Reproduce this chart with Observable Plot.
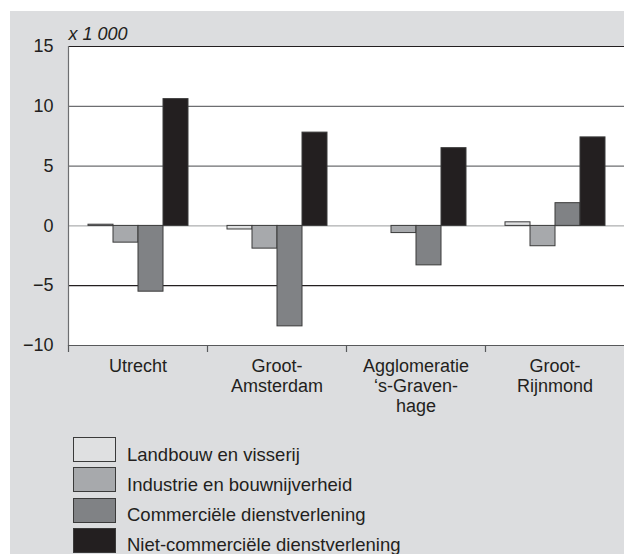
<!DOCTYPE html>
<html>
<head>
<meta charset="utf-8">
<script src="https://cdn.jsdelivr.net/npm/d3@7"></script>
<script src="https://cdn.jsdelivr.net/npm/@observablehq/plot@0.6"></script>
<style>
  body { margin: 0; background: #ffffff; font-family: "Liberation Sans", Arial, sans-serif; color: #231f20; }
  #box { position: absolute; left: 10px; top: 11px; width: 614px; height: 543px; background: #dcdddf; overflow: hidden; }
  #chart { position: absolute; left: 0; top: 0; }
  .row { position: absolute; left: 63px; height: 25px; }
  .sw { position: absolute; left: 0; top: 0; width: 41px; height: 23px; border: 1px solid #3a3a3a; }
  .lab { position: absolute; left: 54px; top: 8.5px; font-size: 18.5px; line-height: 18px; white-space: nowrap; }
</style>
</head>
<body>
<div id="box"><div id="chart"></div><div id="legend"></div></div>
<script>
const regions = ["Utrecht", "Groot-Amsterdam", "Agglomeratie 's-Gravenhage", "Groot-Rijnmond"];
const regionLabels = ["Utrecht", "Groot-\nAmsterdam", "Agglomeratie\n\u2018s-Graven-\nhage", "Groot-\nRijnmond"];
const sectors = ["Landbouw en visserij", "Industrie en bouwnijverheid", "Commerciële dienstverlening", "Niet-commerciële dienstverlening"];
const sectorColors = ["#dfe0e1", "#a7a9ac", "#808285", "#231f20"];
const landbouw = [0.1, -0.3, 0, 0.3];
const industrie = [-1.4, -1.9, -0.6, -1.7];
const commercieel = [-5.5, -8.4, -3.3, 1.9];
const nietCommercieel = [10.6, 7.8, 6.5, 7.4];
const yTicks = [-10, -5, 0, 5, 10, 15];
const unitLabel = "x 1 000";

const series = [landbouw, industrie, commercieel, nietCommercieel];
const data = regions.flatMap((r, i) => sectors.map((s, j) => ({region: r, sector: s, value: series[j][i]})));

const W = 614, ML = 58, MR = 0;
const band = (W - ML - MR) / regions.length;

const chart = Plot.plot({
  width: W, height: 420,
  marginLeft: ML, marginRight: MR, marginTop: 35, marginBottom: 86,
  style: {background: "transparent", fontFamily: "'Liberation Sans', Arial, sans-serif", fontSize: "18px", color: "#231f20", overflow: "visible"},
  fx: {domain: regions, padding: 0, label: null, axis: null},
  x: {domain: sectors, paddingInner: 0, paddingOuter: 0.7, axis: null},
  y: {domain: [-10, 15], label: null, axis: null},
  color: {domain: sectors, range: sectorColors},
  marks: [
    Plot.frame({fill: "white", stroke: null, insetRight: -1}),
    Plot.ruleY([5, 10], {stroke: "#6d6e71", strokeWidth: 1.2}),
    Plot.ruleY([0], {stroke: "#9a9b9d", strokeWidth: 1}),
    Plot.ruleY([-5, 15], {stroke: "#231f20", strokeWidth: 1.2}),
    Plot.ruleY([-10], {stroke: "#58595b", strokeWidth: 1.2}),
    Plot.barY(data, {fx: "region", x: "sector", y: "value", fill: "sector", stroke: "#3a3a3a", strokeWidth: 1, inset: 0}),
    Plot.frame({anchor: "left", fx: () => regions[0], stroke: "#6d6e71", strokeWidth: 1.2}),
    Plot.axisY({ticks: yTicks, tickSize: 0, tickPadding: 15, fontSize: 18, label: null, fill: "#231f20"}),
    Plot.axisFx({anchor: "bottom", tickSize: 0, tickPadding: 12, fontSize: 18, lineHeight: 1.11, label: null, fill: "#231f20",
      tickFormat: (d) => regionLabels[regions.indexOf(d)]}),
    Plot.axisFx({anchor: "bottom", tickSize: 7, tickFormat: () => "", label: null, dx: -band / 2, stroke: "#58595b", strokeWidth: 1.2}),
    Plot.text([unitLabel], {fx: () => regions[0], frameAnchor: "top-left", textAnchor: "start", lineAnchor: "bottom", dy: -7, fontSize: 18, fontStyle: "italic", fill: "#231f20"})
  ]
});
document.getElementById("chart").append(chart);

const legend = document.getElementById("legend");
sectors.forEach((s, i) => {
  const row = document.createElement("div");
  row.className = "row";
  row.style.top = (426 + i * 30.3) + "px";
  const sw = document.createElement("div");
  sw.className = "sw";
  sw.style.background = sectorColors[i];
  const lab = document.createElement("div");
  lab.className = "lab";
  lab.textContent = s;
  row.append(sw, lab);
  legend.append(row);
});
</script>
</body>
</html>
